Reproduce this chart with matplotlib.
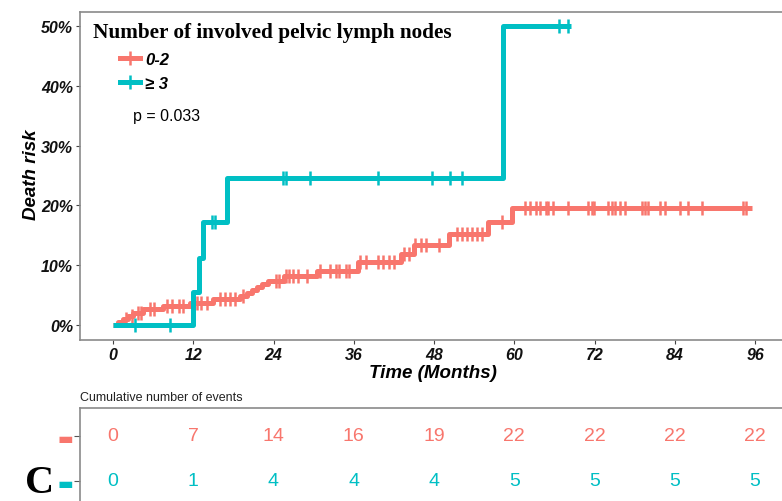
import numpy as np
import matplotlib
matplotlib.use("Agg")
import matplotlib.pyplot as plt
from matplotlib.lines import Line2D

W, H = 782, 502
RED = "#F8766D"
TEAL = "#00BFC4"
SANS = "Liberation Sans"
SERIF = "Liberation Serif"

# ---------------- data ----------------
month_ticks = [0, 12, 24, 36, 48, 60, 72, 84, 96]
risk_ticks = [0, 10, 20, 30, 40, 50]
group_labels = ["0-2", "\u2265 3"]

red_event_times = [0.8, 1.5, 2.2, 3.0, 4.5, 7.5, 11.5, 15.0, 19.0, 20.0, 20.8, 21.5,
                   22.3, 23.2, 25.5, 30.5, 36.7, 43.0, 45.0, 50.3, 56.0, 59.7]
red_event_risk = [0.5, 1.0, 1.5, 2.0, 2.6, 3.2, 3.7, 4.3, 4.8, 5.3, 5.8, 6.3,
                  6.8, 7.3, 8.2, 9.0, 10.5, 11.9, 13.4, 15.3, 17.3, 19.5]
red_last = 95.5
red_censor = [2.0, 2.8, 3.8, 4.2, 5.5, 6.2, 8.0, 8.8, 9.8, 10.5, 12.5, 13.2, 14.0,
              16.0, 16.8, 17.5, 18.3, 19.5, 24.3, 24.8, 25.8, 26.3, 26.9, 27.6, 29.0,
              31.0, 32.5, 33.3, 33.8, 34.8, 35.3, 37.0, 37.8, 39.7, 40.4, 41.2, 42.0,
              43.5, 44.3, 45.2, 46.0, 46.8, 48.7, 51.4, 52.2, 53.0, 53.7, 54.5, 55.2,
              58.2, 61.6, 62.4, 63.2, 63.9, 64.7, 65.1, 65.8, 68.0, 71.0, 71.6, 71.9,
              74.0, 74.6, 75.0, 75.8, 76.5, 79.1, 79.5, 80.0, 81.8, 82.5, 84.8, 86.0,
              88.0, 94.2, 94.6]

teal_event_times = [12.0, 12.8, 13.5, 17.0, 58.3]
teal_event_risk = [5.6, 11.2, 17.2, 24.6, 50.0]
teal_last = 68.5
teal_censor = [3.3, 8.5, 14.8, 15.3, 25.4, 25.9, 29.4, 39.7, 47.7, 50.4, 52.2, 66.7, 68.0]

red_events_table = [0, 7, 14, 16, 19, 22, 22, 22, 22]
teal_events_table = [0, 1, 4, 4, 4, 5, 5, 5, 5]

# ---------------- figure ----------------
fig = plt.figure(figsize=(W / 100, H / 100), dpi=100)

def fx(px):
    return px / W

def fy(py):
    return 1 - py / H

ax_l, ax_r = 80, 790
ax_t, ax_b = 13, 341
ax = fig.add_axes([fx(ax_l), fy(ax_b), fx(ax_r - ax_l), (ax_b - ax_t) / H])

x0_px, x96_px = 113, 755
ppm = (x96_px - x0_px) / 96.0
ax.set_xlim((ax_l - x0_px) / ppm, (ax_r - x0_px) / ppm)
y0_px, y50_px = 326, 27
ppp = (y0_px - y50_px) / 50.0
ax.set_ylim((y0_px - ax_b) / ppp, (y0_px - ax_t) / ppp)


def draw_curve(times, risks, last, censor, color):
    xs = [0] + list(times) + [last]
    ys = [0] + list(risks) + [risks[-1]]
    ax.step(xs, ys, where="post", color=color, lw=3.6, solid_capstyle="butt", zorder=3)
    lv = np.array([0] + list(risks))
    idx = np.searchsorted(np.array(times), np.array(censor), side="right")
    ax.plot(censor, lv[idx], ls="none", marker="|", ms=9.5, mew=1.8, color=color, zorder=3)


draw_curve(red_event_times, red_event_risk, red_last, red_censor, RED)
draw_curve(teal_event_times, teal_event_risk, teal_last, teal_censor, TEAL)

ax.set_xticks(month_ticks)
ax.set_xticklabels([str(m) for m in month_ticks])
ax.set_yticks(risk_ticks)
ax.set_yticklabels([f"{r}%" for r in risk_ticks])
for lab in ax.get_xticklabels() + ax.get_yticklabels():
    lab.set_fontfamily(SANS)
    lab.set_fontweight("bold")
    lab.set_fontstyle("italic")
    lab.set_fontsize(11.5)
    lab.set_color("#111111")
ax.tick_params(length=3, width=0.8, color="#444444", pad=2)
for s in ["top", "left", "bottom"]:
    ax.spines[s].set_color("#8a8a8a")
    ax.spines[s].set_linewidth(1.2)
ax.spines["right"].set_visible(False)

ax.set_xlabel("Time (Months)", fontfamily=SANS, fontweight="bold", fontstyle="italic", fontsize=13.5)
ax.set_ylabel("Death risk", fontfamily=SANS, fontweight="bold", fontstyle="italic", fontsize=13.5)
ax.xaxis.set_label_coords((433 - ax_l) / (ax_r - ax_l), (ax_b - 374) / (ax_b - ax_t))
ax.xaxis.label.set_va("center")
ax.yaxis.set_label_coords((32 - ax_l) / (ax_r - ax_l), (ax_b - 175) / (ax_b - ax_t))
ax.yaxis.label.set_va("center")

fig.text(fx(93), fy(33), "Number of involved pelvic lymph nodes", fontfamily=SERIF,
         fontweight="bold", fontsize=15.3, ha="left", va="center")
handles = [Line2D([], [], color=RED, lw=3.6, marker="|", ms=9.5, mew=1.8),
           Line2D([], [], color=TEAL, lw=3.6, marker="|", ms=9.5, mew=1.8)]
leg = ax.legend(handles, group_labels, loc="upper left", bbox_to_anchor=(fx(120), fy(53)),
                bbox_transform=fig.transFigure, frameon=False, borderpad=0, borderaxespad=0,
                handlelength=1.2, handletextpad=0.3, labelspacing=0.55, numpoints=1,
                prop=dict(family=SANS, weight="bold", style="italic", size=12))
fig.text(fx(133), fy(117), "p = 0.033", fontfamily=SANS, fontsize=11.5, ha="left", va="center")

# ---------------- risk table ----------------
t_t, t_b = 409, 525
ax2 = fig.add_axes([fx(ax_l), fy(t_b), fx(ax_r - ax_l), (t_b - t_t) / H])
ax2.set_xlim(ax.get_xlim())
row_px = {1: 437, 0: 482}
rpp = row_px[0] - row_px[1]
ax2.set_ylim(-(t_b - row_px[0]) / rpp, 1 + (row_px[1] - t_t) / rpp)
for m, r, t in zip(month_ticks, red_events_table, teal_events_table):
    ax2.text(m, 1, str(r), color=RED, ha="center", va="center", fontfamily=SANS, fontsize=14)
    ax2.text(m, 0, str(t), color=TEAL, ha="center", va="center", fontfamily=SANS, fontsize=14)
ax2.set_xticks([])
ax2.set_yticks([1, 0])
ax2.set_yticklabels(["\u25ac", "\u25ac"])
for lab, c in zip(ax2.get_yticklabels(), [RED, TEAL]):
    lab.set_color(c)
    lab.set_fontfamily("DejaVu Sans")
    lab.set_fontsize(12)
ax2.tick_params(axis="y", length=4, width=0.8, color="#555555", pad=1)
for s in ["top", "left"]:
    ax2.spines[s].set_color("#8a8a8a")
    ax2.spines[s].set_linewidth(1.2)
ax2.spines["right"].set_visible(False)
ax2.spines["bottom"].set_visible(False)

fig.text(fx(80), fy(398), "Cumulative number of events", fontfamily=SANS, fontsize=9,
         ha="left", va="center", color="#222222")
fig.text(fx(40), fy(484), "C", fontfamily=SERIF, fontweight="bold", fontsize=29,
         ha="center", va="center")

fig.savefig("out.png", dpi=100)
